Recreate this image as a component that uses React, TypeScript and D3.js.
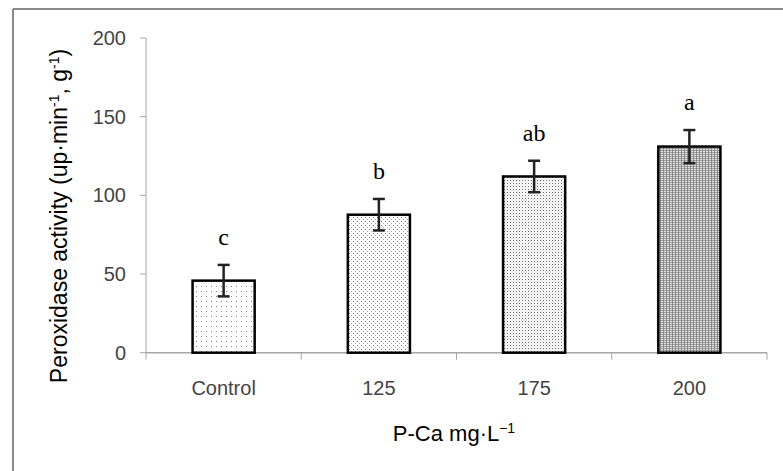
import React from "react";
import * as d3 from "d3";

const categories = ["Control", "125", "175", "200"];
const values = [45.8, 87.7, 112, 131];
const errors = [10, 10, 10, 10.5];
const letters = ["c", "b", "ab", "a"];
const yTicks = [0, 50, 100, 150, 200];
const patternIds = ["pat0", "pat1", "pat2", "pat3"];

const W = 783, H = 471;
const left = 146, right = 767, top = 38, bottom = 352.7;

export default function App() {
  const x = d3.scaleBand<string>().domain(categories).range([left, right]).paddingInner(0.6).paddingOuter(0.3);
  const xb = d3.scaleBand<string>().domain(categories).range([left, right]);
  const y = d3.scaleLinear().domain([0, 200]).range([bottom, top]);
  const sans = "'Liberation Sans', Arial, sans-serif";
  const serif = "'Liberation Serif', 'Times New Roman', serif";
  return (
    <svg width={W} height={H} style={{ position: "absolute", left: 0, top: 0, background: "#fff" }}>
      <defs>
        <pattern id="pat0" width="5" height="5" patternUnits="userSpaceOnUse">
          <rect width="5" height="5" fill="#fff" />
          <rect x="1" y="1" width="1" height="1" fill="#888" />
        </pattern>
        <pattern id="pat1" width="4" height="4" patternUnits="userSpaceOnUse">
          <rect width="4" height="4" fill="#fff" />
          <rect x="1" y="1" width="1" height="1" fill="#777" />
          <rect x="3" y="3" width="1" height="1" fill="#aaa" />
        </pattern>
        <pattern id="pat2" width="3" height="3" patternUnits="userSpaceOnUse">
          <rect width="3" height="3" fill="#fff" />
          <rect x="0" y="0" width="1" height="1" fill="#666" />
          <rect x="1.5" y="1.5" width="1" height="1" fill="#bbb" />
        </pattern>
        <pattern id="pat3" width="3" height="2" patternUnits="userSpaceOnUse">
          <rect width="3" height="2" fill="#e4e4e4" />
          <rect x="0" y="0" width="1" height="2" fill="#888" />
          <rect x="1.5" y="0" width="1" height="1" fill="#555" />
        </pattern>
      </defs>
      <line x1={13} y1={9} x2={W} y2={9} stroke="#8a8a8a" strokeWidth={2} />
      <line x1={13} y1={9} x2={13} y2={H} stroke="#8a8a8a" strokeWidth={2} />

      {/* y axis */}
      <line x1={left} y1={y(200)} x2={left} y2={bottom} stroke="#a6a6a6" strokeWidth={1} />
      {yTicks.map((t) => (
        <g key={t}>
          <line x1={left - 6} x2={left} y1={y(t)} y2={y(t)} stroke="#a6a6a6" />
          <text x={left - 20} y={y(t)} dy="0.35em" textAnchor="end" fontFamily={sans} fontSize={20} fill="#444">{t}</text>
        </g>
      ))}
      {/* x axis */}
      <line x1={left} x2={right} y1={bottom} y2={bottom} stroke="#a6a6a6" strokeWidth={1.5} />
      {[...categories.map((c) => xb(c)!), right].map((p, i) => (
        <line key={i} x1={p} x2={p} y1={bottom} y2={bottom + 7} stroke="#a6a6a6" />
      ))}
      {categories.map((c) => (
        <text key={c} x={xb(c)! + xb.bandwidth() / 2} y={395} textAnchor="middle" fontFamily={sans} fontSize={20} fill="#444">{c}</text>
      ))}

      {/* bars */}
      {categories.map((c, i) => {
        const cx = x(c)! + x.bandwidth() / 2;
        return (
          <g key={c}>
            <rect x={x(c)} y={y(values[i])} width={x.bandwidth()} height={bottom - y(values[i])} fill={`url(#${patternIds[i]})`} stroke="#000" strokeWidth={2.5} />
            <line x1={cx} x2={cx} y1={y(values[i] + errors[i])} y2={y(values[i] - errors[i])} stroke="#222" strokeWidth={2.5} />
            <line x1={cx - 6} x2={cx + 6} y1={y(values[i] + errors[i])} y2={y(values[i] + errors[i])} stroke="#222" strokeWidth={2.5} />
            <line x1={cx - 6} x2={cx + 6} y1={y(values[i] - errors[i])} y2={y(values[i] - errors[i])} stroke="#222" strokeWidth={2.5} />
            <text x={cx} y={y(values[i] + errors[i]) - 20} textAnchor="middle" fontFamily={serif} fontSize={24} fill="#000">{letters[i]}</text>
          </g>
        );
      })}

      <text transform={`translate(67,216) rotate(-90)`} textAnchor="middle" fontFamily={sans} fontSize={23} fill="#000">
        Peroxidase activity (up·min<tspan dy="-8" fontSize={14}>-1</tspan><tspan dy="8">, g</tspan><tspan dy="-8" fontSize={14}>-1</tspan><tspan dy="8">)</tspan>
      </text>
      <text x={454} y={441} textAnchor="middle" fontFamily={sans} fontSize={22} fill="#000">
        P-Ca mg·L<tspan dy="-8" fontSize={14}>−1</tspan>
      </text>
    </svg>
  );
}
